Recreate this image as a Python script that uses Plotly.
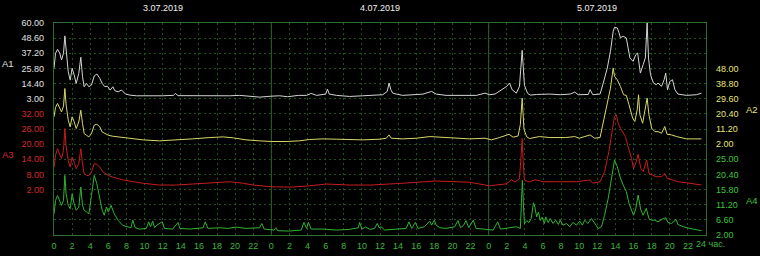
import plotly.graph_objects as go

# ---------------- data (hours from 3.07.2019 00:00) ----------------
DATES = ["3.07.2019", "4.07.2019", "5.07.2019"]
DAY_BOUNDS = [24, 48]
X_TICK_HOURS = list(range(0, 72, 2))
X_TICK_TEXT = [str(h % 24) for h in X_TICK_HOURS]
X_END_HOUR = 72
X_END_TEXT = "24 час."

T1 = [0.0, 0.17, 0.39, 0.64, 0.83, 1.05, 1.2, 1.34, 1.57, 1.79, 2.0, 2.23, 2.45, 2.74, 2.96, 3.15, 3.33, 3.59, 3.85, 4.14,
      4.44, 4.73, 5.06, 5.32, 5.62, 5.9, 6.2, 6.5, 6.72, 7.09, 7.46, 7.9, 8.4, 9.1, 10.5, 12.0, 13.2, 13.4, 13.7, 15.0,
      16.5, 17.7, 18.3, 19.4, 20.5, 21.6, 22.7, 24.0, 24.9, 25.8, 27.0, 27.9, 28.4, 29.0, 29.7, 30.0, 30.2, 30.4, 31.2, 32.65,
      34.1, 35.6, 36.3, 36.8, 37.0, 37.2, 37.4, 37.8, 38.5, 39.65, 40.75, 41.7, 42.2, 43.3, 44.4, 45.5, 46.65, 47.6, 48.1, 48.7,
      49.4, 50.0, 50.3, 50.6, 51.06, 51.4, 51.7, 51.95, 52.3, 52.6, 53.3, 54.75, 55.9, 57.0, 57.5, 57.9, 59.0, 59.2, 59.5, 60.3,
      60.6, 61.1, 61.45, 61.75, 61.9, 62.2, 62.4, 62.55, 62.85, 63.2, 63.4, 63.6, 63.95, 64.25, 64.45, 64.75, 65.06, 65.3, 65.5, 65.65,
      65.87, 66.2, 66.5, 66.7, 67.09, 67.38, 67.55, 67.75, 68.0, 68.3, 68.57, 68.9, 69.85, 70.96, 71.5]
A1 = [25.9, 37.2, 40.2, 37.2, 32.2, 37.2, 50.3, 38.4, 23.3, 17.0, 25.9, 20.8, 14.5, 22.1, 34.2, 19.6, 12.0, 14.5, 12.0, 13.3,
      20.1, 21.6, 18.3, 14.5, 12.0, 12.5, 9.5, 12.0, 9.0, 8.2, 9.5, 6.5, 5.7, 5.2, 5.0, 5.2, 5.5, 7.0, 5.3, 5.2,
      5.5, 5.5, 5.5, 5.2, 5.5, 4.7, 4.2, 4.9, 5.2, 4.5, 5.5, 5.5, 7.0, 5.5, 6.0, 6.5, 10.2, 6.5, 5.5, 4.7,
      5.2, 5.5, 6.0, 8.5, 14.8, 9.7, 7.2, 6.5, 5.5, 6.0, 6.5, 8.5, 6.5, 5.5, 5.5, 6.0, 5.5, 7.2, 6.0, 6.5,
      9.7, 12.3, 14.8, 9.7, 7.2, 12.3, 39.4, 13.0, 7.0, 5.7, 6.2, 6.5, 6.0, 6.5, 8.0, 6.0, 6.2, 9.9, 6.0, 6.5,
      13.5, 26.1, 38.7, 53.8, 56.8, 56.3, 52.5, 48.8, 50.0, 48.8, 41.2, 33.7, 31.1, 36.2, 37.4, 22.3, 28.6, 33.7, 60.0, 33.7,
      21.1, 14.8, 13.5, 14.8, 12.3, 17.3, 22.3, 9.7, 16.0, 17.3, 9.7, 6.5, 5.5, 6.0, 7.2]

T2 = [0.0, 0.17, 0.39, 0.64, 0.83, 1.05, 1.2, 1.34, 1.57, 1.79, 2.0, 2.23, 2.45, 2.74, 2.96, 3.15, 3.33, 3.59, 3.85, 4.14,
      4.44, 4.73, 5.06, 5.32, 5.62, 6.0, 6.5, 7.1, 7.8, 8.6, 9.8, 11.65, 13.5, 15.3, 17.2, 18.7, 19.8, 21.2, 22.7, 24.0,
      25.7, 27.1, 28.2, 29.7, 31.2, 32.65, 34.1, 36.0, 36.7, 37.0, 37.25, 38.5, 40.0, 41.5, 43.0, 44.4, 45.9, 47.6, 48.3, 49.2,
      49.8, 50.25, 50.7, 51.25, 51.5, 51.7, 51.9, 52.2, 52.5, 53.6, 54.75, 56.5, 57.5, 58.0, 59.2, 59.7, 60.3, 60.6, 61.1, 61.45,
      61.75, 61.9, 62.2, 62.55, 62.9, 63.2, 63.5, 63.9, 64.14, 64.4, 64.55, 64.7, 65.0, 65.25, 65.5, 65.7, 66.0, 66.35, 66.7, 67.09,
      67.45, 67.7, 68.2, 68.75, 69.85, 71.5]
A2 = [18.6, 24.3, 26.7, 23.7, 21.6, 25.1, 35.8, 25.7, 16.6, 12.5, 18.6, 15.5, 11.5, 15.5, 22.6, 14.5, 8.4, 7.4, 6.4, 8.4,
      13.5, 14.1, 12.5, 9.4, 8.4, 7.4, 6.8, 6.4, 5.8, 5.4, 4.6, 4.0, 4.4, 5.2, 6.0, 6.4, 5.8, 4.6, 4.0, 3.6,
      3.6, 4.0, 4.8, 5.2, 5.0, 4.6, 4.6, 5.0, 5.6, 7.6, 5.6, 5.2, 5.6, 6.6, 6.0, 5.6, 5.2, 5.6, 4.6, 6.0,
      7.2, 8.0, 6.2, 7.0, 14.0, 30.0, 11.0, 6.5, 5.4, 6.6, 6.0, 6.0, 6.6, 5.6, 7.6, 5.6, 6.0, 13.7, 25.9, 36.0,
      48.2, 43.2, 41.1, 37.1, 32.0, 31.6, 25.9, 17.8, 15.7, 22.8, 32.0, 19.8, 14.7, 21.8, 30.0, 19.8, 11.7, 9.6, 9.6, 8.6,
      12.7, 8.0, 7.6, 6.6, 5.2, 5.2]

T3 = [0.0, 0.17, 0.39, 0.64, 0.83, 1.05, 1.2, 1.34, 1.57, 1.79, 2.0, 2.23, 2.45, 2.74, 2.96, 3.15, 3.33, 3.59, 3.85, 4.14,
      4.44, 4.73, 5.06, 5.4, 6.0, 6.7, 7.5, 8.6, 9.8, 11.65, 13.5, 15.3, 17.2, 19.4, 20.9, 22.0, 24.0, 26.4, 28.2, 30.1,
      32.6, 35.0, 38.5, 42.2, 45.9, 48.1, 50.0, 50.5, 50.9, 51.4, 51.6, 51.7, 51.8, 51.95, 52.5, 53.1, 53.6, 54.0, 55.5, 57.7,
      59.2, 59.5, 60.3, 60.8, 61.27, 61.64, 61.9, 62.1, 62.3, 62.55, 62.85, 63.1, 63.4, 63.77, 64.0, 64.3, 64.5, 64.8, 65.06, 65.3,
      65.45, 65.7, 66.0, 66.5, 67.1, 67.45, 67.7, 68.2, 68.9, 69.85, 71.0, 71.5]
A3 = [10.9, 15.6, 18.2, 16.3, 14.3, 17.6, 26.2, 18.9, 13.6, 10.9, 14.9, 12.9, 10.3, 12.3, 18.2, 12.3, 8.3, 7.6, 7.6, 9.0,
      12.3, 12.0, 10.9, 9.0, 7.6, 6.7, 5.9, 5.2, 4.5, 3.8, 3.8, 4.2, 4.5, 5.1, 4.5, 3.8, 3.1, 3.0, 3.5, 4.2,
      3.8, 3.8, 4.5, 5.4, 4.9, 3.5, 4.3, 5.9, 5.0, 6.3, 16.3, 22.2, 13.6, 5.7, 5.0, 5.9, 5.5, 5.1, 5.1, 5.1,
      5.8, 4.5, 5.1, 9.1, 17.0, 25.0, 31.0, 31.6, 28.3, 26.3, 24.3, 23.0, 19.0, 14.4, 10.4, 13.1, 16.0, 10.4, 9.1, 11.7,
      13.7, 8.4, 7.8, 7.1, 7.1, 8.4, 6.5, 5.8, 5.1, 4.7, 4.2, 3.8]

T4 = [0.0, 0.17, 0.39, 0.64, 0.83, 1.05, 1.2, 1.34, 1.57, 1.79, 2.0, 2.23, 2.45, 2.74, 2.96, 3.15, 3.33, 3.59, 3.85, 4.14,
      4.44, 4.73, 5.06, 5.32, 5.55, 5.8, 6.0, 6.3, 6.65, 7.1, 7.6, 8.2, 8.5, 8.7, 8.97, 9.45, 10.2, 10.45, 10.65, 10.9,
      11.1, 11.36, 11.95, 12.2, 13.1, 13.7, 13.9, 15.0, 16.45, 16.7, 17.0, 18.3, 19.2, 20.1, 21.2, 22.7, 22.96, 23.2, 24.3, 24.5,
      24.7, 26.0, 27.3, 27.6, 27.9, 28.1, 28.4, 29.7, 31.2, 32.65, 33.6, 33.75, 34.0, 34.4, 34.9, 35.4, 35.7, 35.9, 36.15, 36.5,
      37.8, 38.9, 39.2, 39.5, 39.9, 40.2, 40.9, 41.5, 41.7, 42.0, 42.2, 42.6, 43.3, 44.25, 44.6, 44.9, 45.25, 45.5, 45.8, 46.3,
      46.6, 47.4, 48.5, 49.0, 49.3, 50.3, 51.06, 51.5, 51.6, 51.72, 51.85, 51.95, 52.2, 52.45, 52.7, 52.95, 53.1, 53.3, 53.5, 53.7,
      53.9, 54.15, 54.3, 54.57, 54.8, 55.1, 55.4, 55.7, 55.9, 56.2, 56.6, 56.96, 57.3, 57.7, 58.06, 58.35, 58.6, 58.95, 59.35, 59.7,
      60.1, 60.46, 60.8, 61.2, 61.6, 61.9, 62.2, 62.5, 62.85, 63.2, 63.5, 63.77, 64.0, 64.25, 64.5, 64.8, 65.06, 65.4, 65.7, 66.0,
      66.35, 66.7, 67.27, 67.57, 67.8, 68.2, 68.7, 68.9, 69.5, 70.2, 70.96, 71.5]
A4 = [8.4, 12.5, 14.0, 12.5, 11.0, 12.5, 20.1, 14.5, 11.0, 10.0, 14.5, 11.5, 9.5, 10.5, 16.6, 11.0, 9.5, 9.0, 8.4, 14.0,
      20.1, 17.6, 13.5, 9.5, 8.0, 10.5, 9.0, 11.0, 8.4, 6.4, 4.9, 4.4, 4.2, 6.5, 4.2, 3.8, 4.0, 6.0, 4.5, 6.2,
      4.2, 5.0, 6.0, 4.0, 3.8, 5.8, 4.0, 3.8, 4.2, 6.0, 4.0, 4.2, 4.0, 4.4, 4.0, 4.2, 5.5, 3.8, 3.5, 4.2,
      3.3, 3.2, 3.5, 5.8, 4.0, 5.8, 3.8, 3.8, 3.5, 3.7, 4.2, 5.8, 3.8, 4.4, 3.7, 4.0, 5.5, 4.2, 4.5, 3.5,
      3.8, 4.0, 6.0, 4.0, 5.8, 4.0, 4.5, 6.2, 5.0, 6.5, 5.0, 4.2, 4.0, 4.5, 6.4, 4.2, 5.0, 6.4, 4.2, 6.5,
      4.0, 3.8, 3.5, 6.0, 3.8, 4.2, 4.5, 4.0, 10.5, 18.6, 10.5, 5.4, 6.4, 5.8, 7.0, 11.8, 10.5, 7.5, 9.0, 6.4,
      7.4, 5.5, 7.5, 5.8, 7.0, 5.5, 6.5, 5.2, 6.5, 5.0, 5.5, 4.5, 5.8, 5.0, 6.2, 5.0, 6.5, 5.5, 7.0, 5.5,
      4.0, 4.5, 8.0, 13.1, 19.2, 24.8, 22.8, 19.7, 17.2, 15.2, 11.6, 9.6, 8.0, 10.1, 14.1, 9.6, 8.0, 10.1, 7.0, 6.5,
      6.5, 6.0, 7.0, 7.2, 5.8, 5.5, 6.7, 5.2, 4.5, 4.0, 3.5, 3.3]

# axis ticks: (name, first tick, step, first grid unit of band, side)
AXES = [
    ("A1", 3.0, 11.4, 9, "left"),
    ("A2", 2.0, 9.2, 6, "right"),
    ("A3", 2.0, 6.0, 3, "left"),
    ("A4", 2.0, 4.6, 0, "right"),
]
N_TICKS = 6
GRID_UNITS = 14

# ---------------- style ----------------
LINE_COLORS = ["#d4d4d4", "#d8d868", "#c81c1c", "#2fb52f"]
TEXT_COLORS = ["#e0e0e0", "#e4e474", "#d42a2a", "#3ec43e"]
XTICK_COLOR = "#3cb83c"
GRID = "#234f23"
FRAME = "#2f6d2f"
FONT = "Liberation Sans"
FS = 9

series = [(T1, A1), (T2, A2), (T3, A3), (T4, A4)]

fig = go.Figure()
# base (grid) subplot
fig.add_trace(go.Scatter(x=[], y=[], xaxis="x", yaxis="y", hoverinfo="skip", showlegend=False))

layout = dict(
    width=760, height=256, autosize=False,
    margin=dict(l=54, r=54, t=23, b=21, pad=0),
    paper_bgcolor="black", plot_bgcolor="black", showlegend=False,
    font=dict(family=FONT, size=FS, color="#e0e0e0"),
    xaxis=dict(range=[0, X_END_HOUR], tickmode="array", tickvals=X_TICK_HOURS, ticktext=X_TICK_TEXT,
               tickangle=0, automargin=False,
               tickfont=dict(color=XTICK_COLOR, size=FS, family=FONT), ticks="",
               showgrid=True, gridcolor=GRID, griddash="2px,3px", gridwidth=1,
               showline=True, linecolor=FRAME, linewidth=1, mirror=True, zeroline=False,
               ticklabelstandoff=2),
    yaxis=dict(range=[0, GRID_UNITS], tickmode="array", tickvals=list(range(GRID_UNITS + 1)),
               showticklabels=False, ticks="", showgrid=True, gridcolor=GRID, griddash="2px,3px",
               showline=True, linecolor=FRAME, linewidth=1, mirror=True, zeroline=False),
)

annotations = []
for i, ((name, lo, step, start, side), (tt, vv)) in enumerate(zip(AXES, series)):
    ax_id = i + 2
    tickvals = [lo + k * step for k in range(N_TICKS)]
    rng = [lo - start * step, lo + (GRID_UNITS - start) * step]
    layout[f"yaxis{ax_id}"] = dict(
        overlaying="y", side=side, anchor="x", range=rng,
        tickmode="array", tickvals=tickvals, ticktext=[f"{v:.2f}" for v in tickvals],
        tickfont=dict(color=TEXT_COLORS[i], size=FS, family=FONT), ticks="",
        ticklabelstandoff=9, showgrid=False, zeroline=False, showline=False,
    )
    fig.add_trace(go.Scatter(x=tt, y=vv, mode="lines", xaxis="x", yaxis=f"y{ax_id}",
                             line=dict(color=LINE_COLORS[i], width=1), hoverinfo="skip"))
    annotations.append(dict(
        text=name, xref="paper", x=0 if side == "left" else 1,
        xshift=-46 if side == "left" else 46, xanchor="center",
        yref="y", y=start + (N_TICKS - 1) / 2, yshift=-3, yanchor="middle",
        showarrow=False, font=dict(color=TEXT_COLORS[i], size=FS + 0.5, family=FONT)))

for d, label in enumerate(DATES):
    annotations.append(dict(
        text=label, xref="x", x=24 * d + 12, yref="paper", y=1, yshift=15, yanchor="middle",
        xanchor="center", showarrow=False, font=dict(color="#f0f0f0", size=FS, family=FONT)))

# end-of-axis label "24 час."
annotations.append(dict(
    text=X_END_TEXT, xref="x", x=X_END_HOUR, xanchor="left", xshift=-12,
    yref="paper", y=0, yanchor="middle", yshift=-8.5, showarrow=False,
    font=dict(color=XTICK_COLOR, size=FS, family=FONT)))

layout["annotations"] = annotations
layout["shapes"] = [dict(type="line", xref="x", x0=b, x1=b, yref="paper", y0=0, y1=1,
                         line=dict(color=FRAME, width=1), layer="below") for b in DAY_BOUNDS]

fig.update_layout(**layout)
fig.write_html("out.html", include_plotlyjs=True)
